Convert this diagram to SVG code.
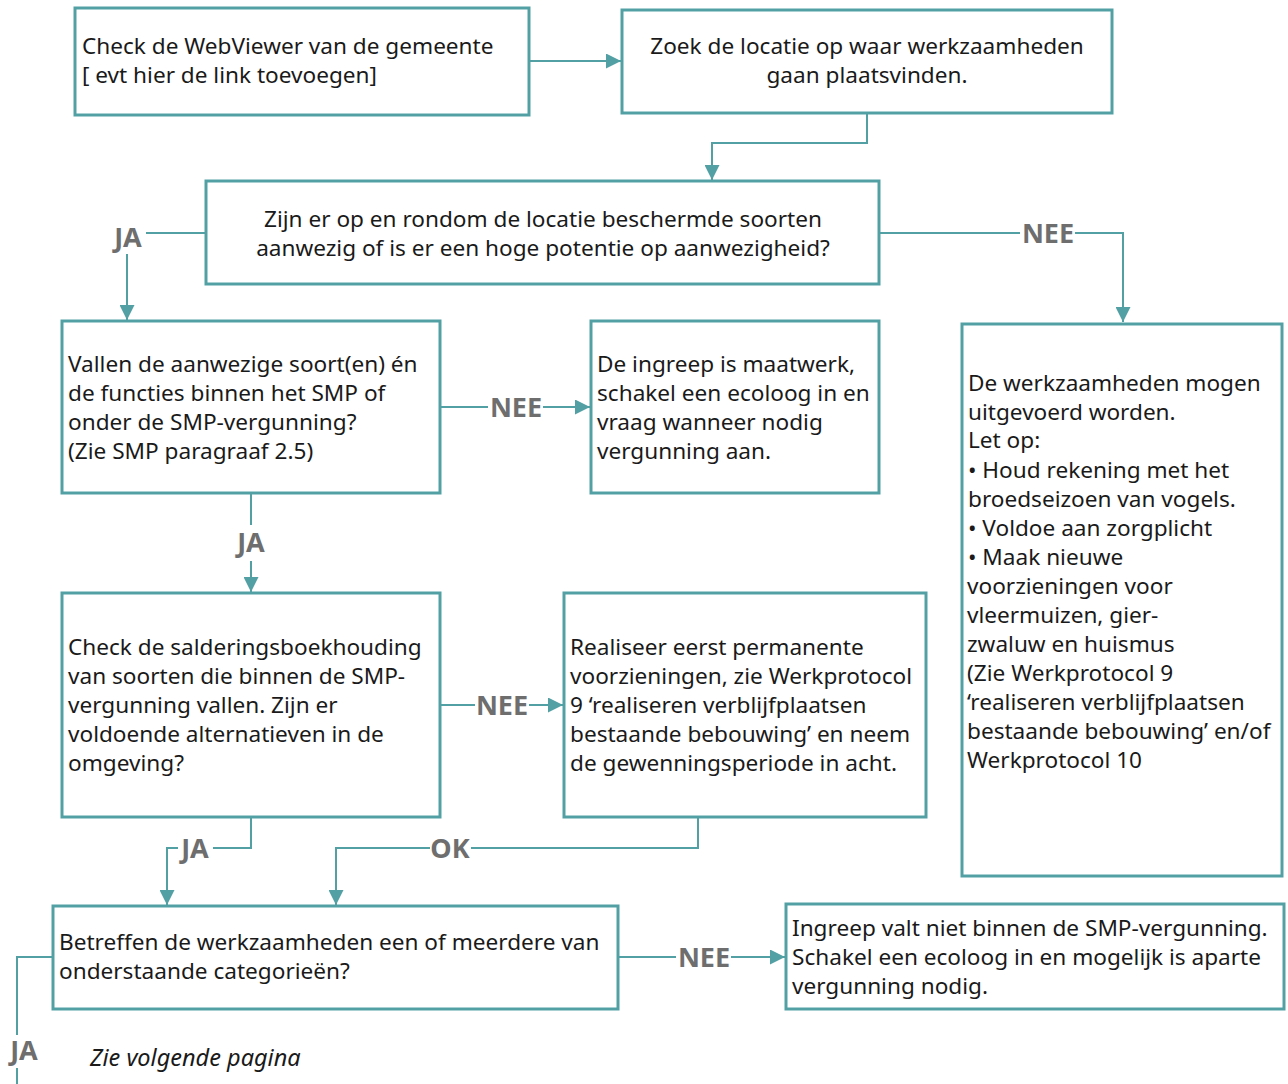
<svg xmlns="http://www.w3.org/2000/svg" width="1288" height="1084" viewBox="0 0 1288 1084">
<defs>
<marker id="ah" viewBox="0 0 10 10" refX="10" refY="5" markerWidth="15" markerHeight="15" markerUnits="userSpaceOnUse" orient="auto">
<path d="M0,0 L10,5 L0,10 z" fill="#52a0a4"/>
</marker>
<style>
.box{fill:#fff;stroke:#52a0a4;stroke-width:3}
.t{font-family:"Noto Sans","Open Sans",sans-serif;font-size:22.6px;fill:#1a1a1a}
.c{text-anchor:middle}
.ln{fill:none;stroke:#52a0a4;stroke-width:2}
.lb{font-family:"Noto Sans","Open Sans",sans-serif;font-size:27px;font-weight:bold;fill:#6e6e6e;text-anchor:middle}
</style>
</defs>
<rect width="1288" height="1084" fill="#fff"/>
<g id="connectors">
<path class="ln" d="M529,61 H621" marker-end="url(#ah)"/>
<path class="ln" d="M867,113 V143 H712 V180" marker-end="url(#ah)"/>
<path class="ln" d="M206,233 H146"/>
<path class="ln" d="M127,254 V320" marker-end="url(#ah)"/>
<path class="ln" d="M879,233 H1020"/>
<path class="ln" d="M1075,233 H1123 V322" marker-end="url(#ah)"/>
<path class="ln" d="M440,407 H488"/>
<path class="ln" d="M543,407 H590" marker-end="url(#ah)"/>
<path class="ln" d="M251,493 V525"/>
<path class="ln" d="M251,561 V592" marker-end="url(#ah)"/>
<path class="ln" d="M440,705 H475"/>
<path class="ln" d="M529,705 H563" marker-end="url(#ah)"/>
<path class="ln" d="M251,817 V848 H213"/>
<path class="ln" d="M178,848 H167 V905" marker-end="url(#ah)"/>
<path class="ln" d="M698,817 V848 H471"/>
<path class="ln" d="M430,848 H336 V905" marker-end="url(#ah)"/>
<path class="ln" d="M618,957 H676"/>
<path class="ln" d="M731,957 H785" marker-end="url(#ah)"/>
<path class="ln" d="M53,957 H17 V1035"/>
<path class="ln" d="M17,1068 V1084"/>
<text class="lb" x="128" y="247">JA</text>
<text class="lb" x="1048" y="243">NEE</text>
<text class="lb" x="516" y="417">NEE</text>
<text class="lb" x="251" y="552">JA</text>
<text class="lb" x="502" y="715">NEE</text>
<text class="lb" x="195" y="858">JA</text>
<text class="lb" x="450" y="858">OK</text>
<text class="lb" x="704" y="967">NEE</text>
<text class="lb" x="24" y="1060">JA</text>
</g>
<g id="n1">
<rect class="box" x="75" y="8" width="454" height="107"/>
<text class="t" x="82" y="54">Check de WebViewer van de gemeente</text>
<text class="t" x="82" y="83">[ evt hier de link toevoegen]</text>
</g>
<g id="n2">
<rect class="box" x="622" y="10" width="490" height="103"/>
<text class="t c" x="867" y="54">Zoek de locatie op waar werkzaamheden</text>
<text class="t c" x="867" y="83">gaan plaatsvinden.</text>
</g>
<g id="n3">
<rect class="box" x="206" y="181" width="673" height="103"/>
<text class="t c" x="543" y="227">Zijn er op en rondom de locatie beschermde soorten</text>
<text class="t c" x="543" y="256">aanwezig of is er een hoge potentie op aanwezigheid?</text>
</g>
<g id="n4">
<rect class="box" x="62" y="321" width="378" height="172"/>
<text class="t" x="68" y="372">Vallen de aanwezige soort(en) én</text>
<text class="t" x="68" y="401">de functies binnen het SMP of</text>
<text class="t" x="68" y="430">onder de SMP-vergunning?</text>
<text class="t" x="68" y="459">(Zie SMP paragraaf 2.5)</text>
</g>
<g id="n5">
<rect class="box" x="591" y="321" width="288" height="172"/>
<text class="t" x="597" y="372">De ingreep is maatwerk,</text>
<text class="t" x="597" y="401">schakel een ecoloog in en</text>
<text class="t" x="597" y="430">vraag wanneer nodig</text>
<text class="t" x="597" y="459">vergunning aan.</text>
</g>
<g id="n6">
<rect class="box" x="962" y="324" width="320" height="552"/>
<text class="t" x="968" y="391">De werkzaamheden mogen</text>
<text class="t" x="968" y="420">uitgevoerd worden.</text>
<text class="t" x="968" y="448">Let op:</text>
<text class="t" x="968" y="478">• Houd rekening met het</text>
<text class="t" x="968" y="507">broedseizoen van vogels.</text>
<text class="t" x="968" y="536">• Voldoe aan zorgplicht</text>
<text class="t" x="968" y="565">• Maak nieuwe</text>
<text class="t" x="967" y="594">voorzieningen voor</text>
<text class="t" x="967" y="623">vleermuizen, gier-</text>
<text class="t" x="967" y="652">zwaluw en huismus</text>
<text class="t" x="967" y="681">(Zie Werkprotocol 9</text>
<text class="t" x="967" y="710">‘realiseren verblijfplaatsen</text>
<text class="t" x="967" y="739">bestaande bebouwing’ en/of</text>
<text class="t" x="967" y="768">Werkprotocol 10</text>
</g>
<g id="n7">
<rect class="box" x="62" y="593" width="378" height="224"/>
<text class="t" x="68" y="655">Check de salderingsboekhouding</text>
<text class="t" x="68" y="684">van soorten die binnen de SMP-</text>
<text class="t" x="68" y="713">vergunning vallen. Zijn er</text>
<text class="t" x="68" y="742">voldoende alternatieven in de</text>
<text class="t" x="68" y="771">omgeving?</text>
</g>
<g id="n8">
<rect class="box" x="564" y="593" width="362" height="224"/>
<text class="t" x="570" y="655">Realiseer eerst permanente</text>
<text class="t" x="570" y="684">voorzieningen, zie Werkprotocol</text>
<text class="t" x="570" y="713">9 ‘realiseren verblijfplaatsen</text>
<text class="t" x="570" y="742">bestaande bebouwing’ en neem</text>
<text class="t" x="570" y="771">de gewenningsperiode in acht.</text>
</g>
<g id="n9">
<rect class="box" x="53" y="906" width="565" height="103"/>
<text class="t" x="59" y="950">Betreffen de werkzaamheden een of meerdere van</text>
<text class="t" x="59" y="979">onderstaande categorieën?</text>
</g>
<g id="n10">
<rect class="box" x="786" y="904" width="498" height="105"/>
<text class="t" x="792" y="936">Ingreep valt niet binnen de SMP-vergunning.</text>
<text class="t" x="792" y="965">Schakel een ecoloog in en mogelijk is aparte</text>
<text class="t" x="792" y="994">vergunning nodig.</text>
</g>
<text class="t" x="90" y="1066" font-style="italic" font-size="23.5px" style="font-size:23.5px">Zie volgende pagina</text>
</svg>
